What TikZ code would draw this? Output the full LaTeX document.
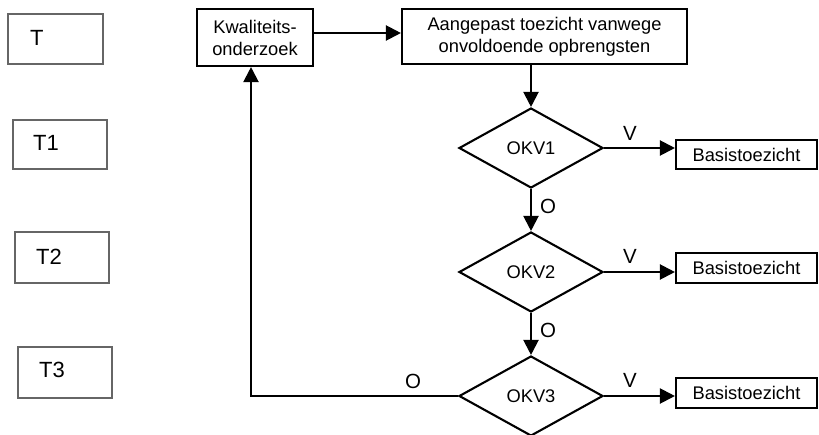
\documentclass[tikz,border=0pt]{standalone}
\usepackage{fontspec}
\setmainfont{Liberation Sans}
\usetikzlibrary{shapes.geometric,arrows.meta}
\begin{document}
\begin{tikzpicture}[x=1pt,y=-1pt,
  font=\fontsize{18.3pt}{22pt}\selectfont,
  tbox/.style={draw=black!60,line width=1.3pt},
  tlbl/.style={inner sep=0pt,anchor=west,font=\fontsize{22pt}{26pt}\selectfont},
  mainbox/.style={draw,line width=2.1pt,inner sep=0pt,align=center},
  dia/.style={draw,line width=2.1pt,shape=diamond,inner sep=0pt,minimum width=144pt,minimum height=80pt},
  conn/.style={line width=2.1pt,-{Triangle[length=15pt,width=15pt]}},
  lbl/.style={inner sep=0pt,font=\fontsize{20.5pt}{24pt}\selectfont}]
\useasboundingbox (0,0) rectangle (819,434);
% T boxes
\node[tbox,minimum width=95pt,minimum height=50pt,inner sep=0pt] (t0) at (55.5,39) {};
\node[tlbl] (t0l) at (30,38) {T};
\node[tbox,minimum width=94pt,minimum height=49pt,inner sep=0pt] (t1) at (60,144.5) {};
\node[tlbl] (t1l) at (33,143) {T1};
\node[tbox,minimum width=94pt,minimum height=51pt,inner sep=0pt] (t2) at (62,257.5) {};
\node[tlbl] (t2l) at (36,257) {T2};
\node[tbox,minimum width=94pt,minimum height=51pt,inner sep=0pt] (t3) at (65,372.5) {};
\node[tlbl] (t3l) at (39,370) {T3};
% main boxes
\node[mainbox,minimum width=116pt,minimum height=57pt] (kw) at (255,37.5) {Kwaliteits-\\onderzoek};
\node[mainbox,minimum width=285pt,minimum height=55pt] (aa) at (544.5,36.5) {Aangepast toezicht vanwege\\onvoldoende opbrengsten};
% diamonds
\node[dia] (d1) at (531,148) {OKV1};
\node[dia] (d2) at (531,272) {OKV2};
\node[dia] (d3) at (531,396) {OKV3};
% Basistoezicht boxes
\node[mainbox,minimum width=141pt,minimum height=29pt] (b1) at (746.5,154.5) {Basistoezicht};
\node[mainbox,minimum width=141pt,minimum height=30pt] (b2) at (746.5,268) {Basistoezicht};
\node[mainbox,minimum width=141pt,minimum height=30pt] (b3) at (746.5,393) {Basistoezicht};
% connectors
\draw[conn] (kw.east |- 0,33) -- (aa.west |- 0,33);
\draw[conn] (aa.south -| d1.north) -- (d1.north);
\draw[conn] (d1.south) -- (d2.north);
\draw[conn] (d2.south) -- (d3.north);
\draw[conn] (d1.east) -- (d1.east -| b1.west);
\draw[conn] (d2.east) -- (d2.east -| b2.west);
\draw[conn] (d3.east) -- (d3.east -| b3.west);
\coordinate (kwin) at ([xshift=-4pt]kw.south);
\draw[conn] (d3.west) -| (kwin);
% labels
\node[lbl] (v1) at (630,133) {V};
\node[lbl] (v2) at (630,256) {V};
\node[lbl] (v3) at (630,380) {V};
\node[lbl] (o1) at (548,206) {O};
\node[lbl] (o2) at (548,330) {O};
\node[lbl] (o3) at (413,381) {O};
\end{tikzpicture}
\end{document}
